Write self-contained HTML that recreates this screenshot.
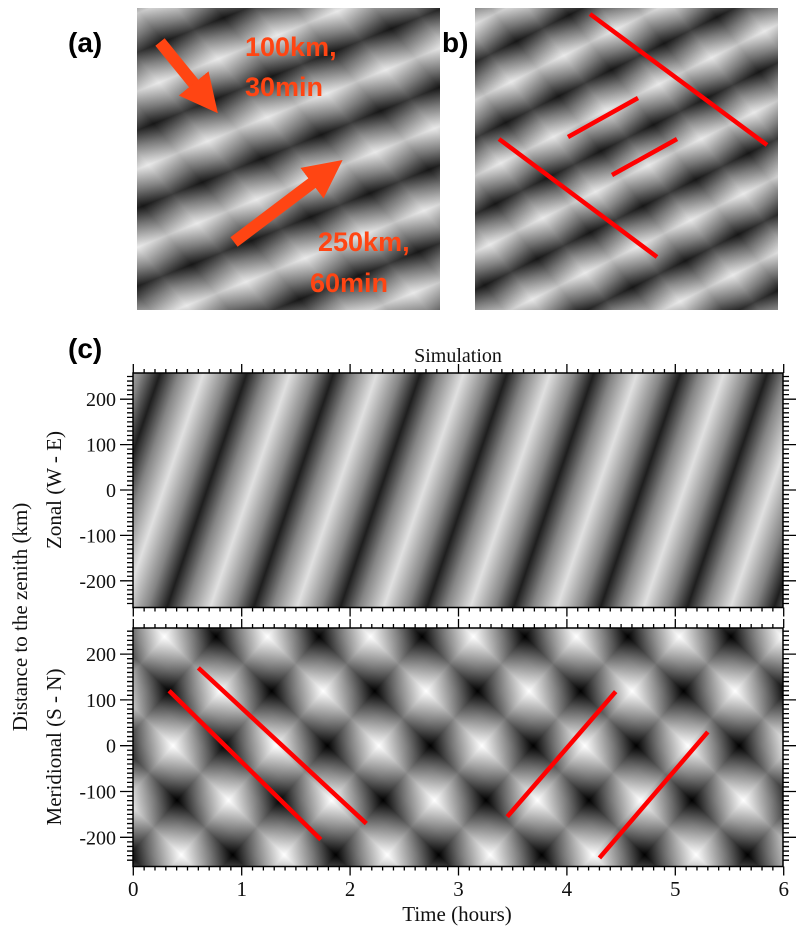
<!DOCTYPE html>
<html><head><meta charset="utf-8"><style>
html,body{margin:0;padding:0;background:#fff;width:805px;height:939px;overflow:hidden}
svg{display:block}
.lbl{font-family:"Liberation Sans",sans-serif;font-weight:bold}
.ser{font-family:"Liberation Serif",serif;fill:#111}
</style></head><body>
<svg id="fig" width="805" height="939" viewBox="0 0 805 939" xmlns="http://www.w3.org/2000/svg">
<defs id="defs">
  <marker id="ah" viewBox="0 0 10 10" refX="5" refY="5" markerWidth="3.2" markerHeight="3.2" orient="auto"><path d="M0,0 L10,5 L0,10 z" fill="#ff4513"/></marker>
  <clipPath id="clipA"><rect x="137" y="8" width="303" height="302"/></clipPath>
  <clipPath id="clipB"><rect x="475" y="8" width="303" height="302"/></clipPath>
  <clipPath id="clipT"><rect x="133" y="373" width="650" height="234"/></clipPath>
  <clipPath id="clipM"><rect x="133" y="628" width="650" height="238"/></clipPath>
</defs>
<text class="lbl" x="68" y="52" font-size="28">(a)</text>
<text class="lbl" x="442" y="52" font-size="28">b)</text>
<text class="lbl" x="68" y="358" font-size="28">(c)</text>
<g id="panelA"></g>
<g id="panelB"></g>
<g id="zonal"></g>
<g id="merid"></g>
<text class="ser" x="458" y="362" font-size="20" text-anchor="middle">Simulation</text>
<text class="ser" x="457" y="921" font-size="21" text-anchor="middle">Time (hours)</text>
<text class="ser" transform="translate(27,617) rotate(-90)" font-size="21" text-anchor="middle">Distance to the zenith (km)</text>
<text class="ser" transform="translate(61,490) rotate(-90)" font-size="21" text-anchor="middle">Zonal (W - E)</text>
<text class="ser" transform="translate(61,747) rotate(-90)" font-size="21" text-anchor="middle">Meridional (S - N)</text>
</svg>
<script>
const xTicks=[0,1,2,3,4,5,6];
const yTicks=[-200,-100,0,100,200];
// wave components: period (hours), phase speed (km/h), time of dark crest at 0 km
const zonalPeriod=[0.8];
const zonalSpeed=[700];
const zonalT0=[0.68];
const meridPeriod=[0.95,0.95];
const meridSpeed=[-232,273];
const meridT0=[1.79,1.79];
// red guide lines in meridional panel: [t1,km1,t2,km2]
const lineT1=[0.33,0.6,3.45,4.3];
const lineK1=[120,170,-155,-245];
const lineT2=[1.73,2.15,4.45,5.3];
const lineK2=[-205,-170,118,30];
// panel a/b stripes: slope, vertical period (px)
const stripeSlope=[-0.4,-0.5];
const stripePeriod=[78,76];

const NS='http://www.w3.org/2000/svg';
const defs=document.getElementById('defs');
function el(t,a,p){const e=document.createElementNS(NS,t);for(const k in a)e.setAttribute(k,a[k]);if(p)p.appendChild(e);return e;}
let gid=0;
function grad(x1,y1,gx,gy,dark,light,mid){
  const id='g'+(gid++);
  const g=el('linearGradient',{id:id,gradientUnits:'userSpaceOnUse',spreadMethod:'repeat',x1:x1,y1:y1,x2:x1+gx,y2:y1+gy},defs);
  [[0,dark],[0.22,mid||'#707070'],[0.5,light],[0.78,mid||'#707070'],[1,dark]].forEach(s=>el('stop',{offset:s[0],'stop-color':s[1]},g));
  return id;
}
function gvec(m,V){const L=V/Math.sqrt(1+m*m);const nx=-m/Math.sqrt(1+m*m),ny=1/Math.sqrt(1+m*m);return [nx*L,ny*L];}

function stripes(gEl,x,y,i,cx,cy,clip){
  const v=gvec(stripeSlope[i],stripePeriod[i]);
  const id=grad(cx,cy,v[0],v[1],'#1a1a1a','#e6e6e6','#7a7a7a');
  const r=el('rect',{x:x,y:y,width:303,height:302,fill:'url(#'+id+')','clip-path':'url(#'+clip+')'},gEl);
  
  
}
const pA=document.getElementById('panelA'),pB=document.getElementById('panelB');
stripes(pA,137,8,0,213,100,'clipA');
(function(){const v=gvec(1.2,95);const id=grad(213,100,v[0],v[1],'#000','#fff');
 const r=el('rect',{x:137,y:8,width:303,height:302,fill:'url(#'+id+')',opacity:0.15},pA);
 })();
stripes(pB,475,8,1,603,150,'clipB');
(function(){const v=gvec(1.3,95);const id=grad(600,150,v[0],v[1],'#000','#fff');
 const r=el('rect',{x:475,y:8,width:303,height:302,fill:'url(#'+id+')',opacity:0.15},pB);
 })();
[[160,42,212,106],[234,242,340,162]].forEach((a,i)=>{
  const l=el('line',{x1:a[0],y1:a[1],x2:a[2]-(a[2]-a[0])*0.12,y2:a[3]-(a[3]-a[1])*0.12,stroke:'#ff4513','stroke-width':12,'marker-end':'url(#ah)'},pA);
  
});
[['100km,',245,56],['30min',245,96],['250km,',318,251],['60min',310,292]].forEach(t=>{
  const e=el('text',{x:t[1],y:t[2],class:'lbl','font-size':27,fill:'#ff4513'},pA);e.textContent=t[0];
  
});
[[590,14,767,145],[499,139,657,257],[568,137,638,98],[612,175,677,139]].forEach(a=>{
  const l=el('line',{x1:a[0],y1:a[1],x2:a[2],y2:a[3],stroke:'#ff0000','stroke-width':4.5},pB);
  
});

const X0=133.3,KX=108.4;
function sx(t){return X0+t*KX;}
function mkPlot(gEl,top,bot,y0,ky,periods,speeds,t0s,clip){
  const sy=k=>y0-k*ky;
  periods.forEach((T,i)=>{
    const m=-speeds[i]*ky/KX;
    const Px=T*KX;
    const a=1,b=-1/m,n2=a*a+b*b;
    const gx=a*Px/n2,gy=b*Px/n2;
    const single=periods.length==1;
    const id=single?grad(sx(t0s[i]),sy(0),gx,gy,'#1e1e1e','#e0e0e0','#858585'):grad(sx(t0s[i]),sy(0),gx,gy,'#000','#fff','#7a7a7a');
    const r=el('rect',{x:133,y:top,width:650,height:bot-top,fill:'url(#'+id+')','clip-path':'url(#'+clip+')',opacity:i==0?1:0.45},gEl);
    
    
  });
  const fr=el('rect',{x:133,y:top,width:650,height:bot-top,fill:'none',stroke:'#000','stroke-width':1.5},gEl);
  
  let d='';
  for(let k=-250;k<=250;k+=10){const y=sy(k);if(y<top-0.5||y>bot+0.5)continue;const L=(k%100===0)?13:6;d+=`M133,${y}h${-L}M783,${y}h${L}`;}
  for(let i=0;i<=60;i++){const x=sx(i/10);const L=(i%10===0)?9:4;d+=`M${x},${top}v${-L}M${x},${bot}v${L}`;}
  const tk=el('path',{d:d,stroke:'#000','stroke-width':1.3,fill:'none'},gEl);
  
  yTicks.forEach(k=>{const t=el('text',{x:116,y:sy(k)+7,class:'ser','font-size':20,'text-anchor':'end'},gEl);t.textContent=k;
    });
  return sy;
}
const gZ=document.getElementById('zonal'),gM=document.getElementById('merid');
mkPlot(gZ,373,607.5,490,0.454,zonalPeriod,zonalSpeed,zonalT0,'clipT');
const syM=mkPlot(gM,628,866.5,745.7,0.458,meridPeriod,meridSpeed,meridT0,'clipM');
lineT1.forEach((t,i)=>{
  const l=el('line',{x1:sx(t),y1:syM(lineK1[i]),x2:sx(lineT2[i]),y2:syM(lineK2[i]),stroke:'#ff0000','stroke-width':4.5},gM);
  
  
});
xTicks.forEach(t=>{const e=el('text',{x:sx(t),y:896,class:'ser','font-size':21,'text-anchor':'middle'},gM);e.textContent=t;
  
  });
</script>
</body></html>
